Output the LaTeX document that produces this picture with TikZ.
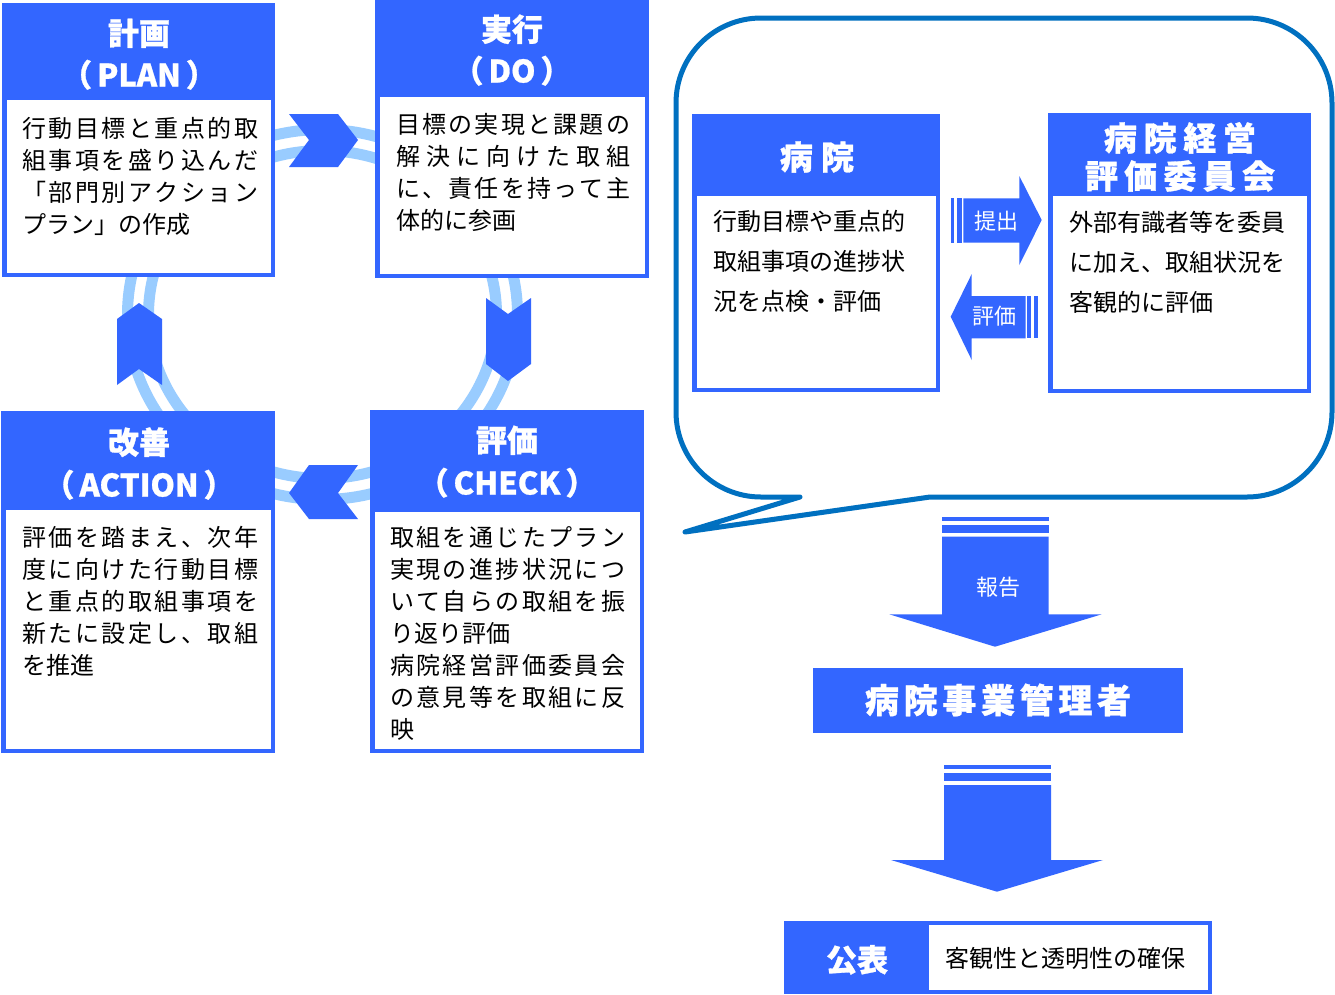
\documentclass[tikz,border=0pt]{standalone}
\usepackage{fontspec}
\setmainfont{Noto Sans CJK JP}
\newfontfamily\heavy{Noto Sans CJK JP}[BoldFeatures={FakeBold=0.9}]
\definecolor{bl}{HTML}{3366FF}
\definecolor{ringc}{HTML}{99CCFF}
\definecolor{bub}{HTML}{0070C0}
\makeatletter
\newcommand\jl[2][236]{\makebox[#1pt][s]{\@tfor\jl@c:=#2\do{\jl@c\hfill}\unskip}}
\makeatother
\begin{document}
\begin{tikzpicture}[x=1pt,y=-1pt,
  tx/.style={inner sep=0,anchor=base west,font=\fontsize{24}{32}\selectfont,text=black},
  tx2/.style={inner sep=0,anchor=base west,font=\fontsize{24}{32}\selectfont,text=black},
  hd/.style={inner sep=0,anchor=base,font=\fontsize{31}{36}\heavy\bfseries,text=white},
  wt/.style={inner sep=0,anchor=base,font=\fontsize{22}{26}\selectfont,text=white},
  ring/.style={draw=ringc,line width=11pt},
  chev/.style={fill=bl},
  box/.style={fill=bl},
  inner/.style={fill=white}]
\useasboundingbox (0,0) rectangle (1335,994);
\fill[white] (0,0) rectangle (1335,994);
% ring
\draw[ring] (322.5,314.5) ellipse [x radius=195, y radius=185];
\draw[ring] (322.5,314.5) ellipse [x radius=174, y radius=164];
% PDCA boxes
\fill[box] (2,3) rectangle (275,277);   \fill[inner] (7,100) rectangle (271,273);
\fill[box] (375,0) rectangle (649,278); \fill[inner] (380,97) rectangle (645,274);
\fill[box] (1,411) rectangle (275,753); \fill[inner] (6,510) rectangle (271,749);
\fill[box] (370,410) rectangle (644,753); \fill[inner] (375,512) rectangle (640,749);
% chevrons
\fill[chev] (289,114) -- (338,114) -- (358,140) -- (338,167) -- (289,167) -- (309,140) -- cycle;
\fill[chev] (486,298) -- (508,314) -- (531,298) -- (531,364) -- (508,381) -- (486,364) -- cycle;
\fill[chev] (358,465) -- (309,465) -- (289,493) -- (309,519) -- (358,519) -- (338,493) -- cycle;
\fill[chev] (139,303) -- (162,319) -- (162,385) -- (139,369) -- (117,385) -- (117,319) -- cycle;
% PLAN
\node[hd] (planh1) at (139,45) {計画};
\node[hd] (planh2) at (139,86.5) {（\kern5pt PLAN\kern5pt）};
\node[tx] (p1) at (22,137) {\jl{行動目標と重点的取}};
\node[tx] (p2) at (22,169) {\jl{組事項を盛り込んだ}};
\node[tx] (p3) at (22,201) {\jl{「部門別アクション}};
\node[tx] (p4) at (22,233) {プラン」の作成};
% DO
\node[hd] (doh1) at (512,41) {実行};
\node[hd] (doh2) at (512,82.5) {（\kern5pt DO\kern5pt）};
\node[tx] (d1) at (396,133) {\jl[234]{目標の実現と課題の}};
\node[tx] (d2) at (396,165) {\jl[234]{解決に向けた取組}};
\node[tx] (d3) at (396,197) {\jl[234]{に、責任を持って主}};
\node[tx] (d4) at (396,229) {体的に参画};
% ACTION
\node[hd] (ach1) at (139,454) {改善};
\node[hd] (ach2) at (139,496.5) {（\kern5pt ACTION\kern5pt）};
\node[tx] (a1) at (22,546) {\jl{評価を踏まえ、次年}};
\node[tx] (a2) at (22,578) {\jl{度に向けた行動目標}};
\node[tx] (a3) at (22,610) {\jl{と重点的取組事項を}};
\node[tx] (a4) at (22,642) {\jl{新たに設定し、取組}};
\node[tx] (a5) at (22,674) {を推進};
% CHECK
\node[hd] (ckh1) at (507,452) {評価};
\node[hd] (ckh2) at (507,494.5) {（\kern5pt CHECK\kern5pt）};
\node[tx] (c1) at (390,546) {\jl[235]{取組を通じたプラン}};
\node[tx] (c2) at (390,578) {\jl[235]{実現の進捗状況につ}};
\node[tx] (c3) at (390,610) {\jl[235]{いて自らの取組を振}};
\node[tx] (c4) at (390,642) {り返り評価};
\node[tx] (c5) at (390,674) {\jl[235]{病院経営評価委員会}};
\node[tx] (c6) at (390,706) {\jl[235]{の意見等を取組に反}};
\node[tx] (c7) at (390,738) {映};
% speech bubble
\draw[draw=bub,line width=5pt,line join=round]
  (1000,18) [rounded corners=85] -- (676,18) -- (676,497)
  [sharp corners] -- (800,497) -- (685,532) -- (930,497)
  [rounded corners=85] -- (1332,497) -- (1332,18) -- cycle;
% hospital boxes
\fill[box] (692,114) rectangle (940,392); \fill[inner] (697,196) rectangle (936,388);
\fill[box] (1048,113) rectangle (1311,393); \fill[inner] (1053,196) rectangle (1307,389);
\node[hd,font=\fontsize{33}{38}\heavy\bfseries] (hosph) at (817,169.5) {\jl[74]{病院}};
\node[hd,font=\fontsize{33}{38}\heavy\bfseries] (comh1) at (1180,150.5) {\jl[152]{病院経営}};
\node[hd,font=\fontsize{33}{38}\heavy\bfseries] (comh2) at (1180,188.5) {\jl[190]{評価委員会}};
\node[tx2] (h1) at (713,230) {行動目標や重点的};
\node[tx2] (h2) at (713,270) {取組事項の進捗状};
\node[tx2] (h3) at (713,310) {況を点検・評価};
\node[tx2] (m1) at (1069,231) {\jl[216]{外部有識者等を委員}};
\node[tx2] (m2) at (1069,271) {\jl[216]{に加え、取組状況を}};
\node[tx2] (m3) at (1069,311) {客観的に評価};
% submit / evaluate arrows
\fill[bl] (950.7,198.3) rectangle (954,242.7);
\fill[bl] (957.3,198.3) rectangle (961.7,242.7);
\fill[bl] (963.3,198.3) -- (1019.3,198.3) -- (1019.3,176) -- (1041.7,220) -- (1019.3,265) -- (1019.3,242.7) -- (963.3,242.7) -- cycle;
\node[wt] (teishutsu) at (996.5,229.5) {提出};
\fill[bl] (1027.3,296) rectangle (1030.7,338.3);
\fill[bl] (1034,296) rectangle (1038.3,338.3);
\fill[bl] (1025.7,296) -- (971.7,296) -- (971.7,274) -- (950.7,316.7) -- (971.7,360) -- (971.7,338.3) -- (1025.7,338.3) -- cycle;
\node[wt] (hyoka) at (994,324.5) {評価};
% report arrow
\fill[bl] (942,516.7) rectangle (1048.7,520.7);
\fill[bl] (942,525) rectangle (1048.7,532.7);
\fill[bl] (942,536.7) -- (1048.7,536.7) -- (1048.7,614.3) -- (1101.7,614.3) -- (995,646.7) -- (889.3,614.3) -- (942,614.3) -- cycle;
\node[wt] (hokoku) at (998,595.5) {報告};
% manager
\fill[bl] (813,668) rectangle (1183,733);
\node[hd,font=\fontsize{34}{38}\heavy\bfseries] (mgr) at (998,713) {\jl[266]{病院事業管理者}};
% publish arrow
\fill[bl] (944,765) rectangle (1051,769);
\fill[bl] (944,773.3) rectangle (1051,781);
\fill[bl] (944,785) -- (1051,785) -- (1051,860) -- (1103,860) -- (997,891.7) -- (891,860) -- (944,860) -- cycle;
% publish box
\fill[bl] (784,921) rectangle (1212,994);
\fill[inner] (929,925) rectangle (1208,990);
\node[hd] (kohyo) at (857,971.5) {公表};
\node[tx] (kohyot) at (945,967) {客観性と透明性の確保};
\end{tikzpicture}
\end{document}
